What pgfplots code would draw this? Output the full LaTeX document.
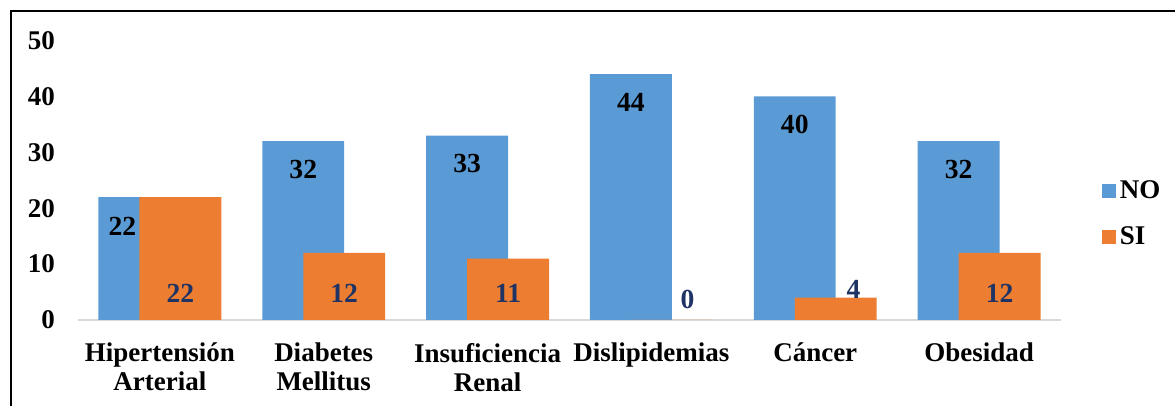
\documentclass[border=0pt]{standalone}
\usepackage{pgfplots}
\pgfplotsset{compat=1.18}
\usepackage{fontspec}
\setmainfont{Liberation Serif}
\definecolor{cNO}{HTML}{5B9BD5}
\definecolor{cSI}{HTML}{ED7D31}
\definecolor{cLab}{HTML}{1F3464}
\begin{document}
\begin{tikzpicture}
\useasboundingbox (0,0) rectangle (587.5pt,203pt);
\draw[line width=1pt,black] (5.5pt,0pt) -- (5.5pt,197.5pt) -- (587.5pt,197.5pt);
\begin{axis}[
  at={(39pt,43pt)}, anchor=south west,
  scale only axis, width=491.5pt, height=139.75pt,
  xmin=-0.5, xmax=5.5, ymin=0, ymax=50,
  ytick={0,10,20,30,40,50},
  xtick={0,1,2,3,4,5},
  xticklabels={{Hipertensión\\Arterial},{Diabetes\\Mellitus},{Insuficiencia\\Renal},{Dislipidemias},{Cáncer},{Obesidad}},
  axis x line*=bottom, axis y line*=left,
  y axis line style={draw=none},
  x axis line style={draw=black!15, line width=0.9pt},
  major tick length=0pt,
  /pgf/number format/assume math mode=true,
  every tick label/.append style={font=\fontsize{13.5}{14.5}\selectfont\bfseries, text=black},
  xticklabel style={align=center, anchor=north, yshift=-8pt},
  yticklabel style={anchor=east, xshift=-8pt},
  clip=false,
  legend style={at={(1.035,0.38)}, anchor=west, draw=none, fill=none,
    font=\fontsize{13.5}{14.5}\selectfont\bfseries, row sep=8.5pt,
    /tikz/every even column/.append style={column sep=2pt}},
  legend cell align=left,
]
\addplot[ybar, bar width=0.5, bar shift=-0.125, fill=cNO, draw=none,
  legend image code/.code={\fill[cNO] (0pt,-3.5pt) rectangle (7pt,3.5pt);}]
  coordinates {(0,22) (1,32) (2,33) (3,44) (4,40) (5,32)};
\addlegendentry{NO}
\addplot[ybar, bar width=0.5, bar shift=0.125, fill=cSI, draw=none,
  legend image code/.code={\fill[cSI] (0pt,-3.5pt) rectangle (7pt,3.5pt);}]
  coordinates {(0,22) (1,12) (2,11) (3,0) (4,4) (5,12)};
\addlegendentry{SI}
% data labels NO
\addplot[draw=none, mark=none, forget plot, nodes near coords, point meta=explicit symbolic,
  nodes near coords align=center,
  every node near coord/.append style={anchor=center, font=\fontsize{13.8}{14.5}\selectfont\bfseries, text=black}]
  coordinates {(-0.229,16.8)[22] (0.875,26.9)[32] (1.875,28.0)[33] (2.875,39.0)[44] (3.875,35.0)[40] (4.875,26.9)[32]};
% data labels SI
\addplot[draw=none, mark=none, forget plot, nodes near coords, point meta=explicit symbolic,
  nodes near coords align=center,
  every node near coord/.append style={anchor=center, font=\fontsize{13.8}{14.5}\selectfont\bfseries, text=cLab}]
  coordinates {(0.125,4.8)[22] (1.125,4.8)[12] (2.125,4.8)[11] (3.220,3.6)[0] (4.234,5.55)[4] (5.125,4.8)[12]};
\end{axis}
\end{tikzpicture}
\end{document}
